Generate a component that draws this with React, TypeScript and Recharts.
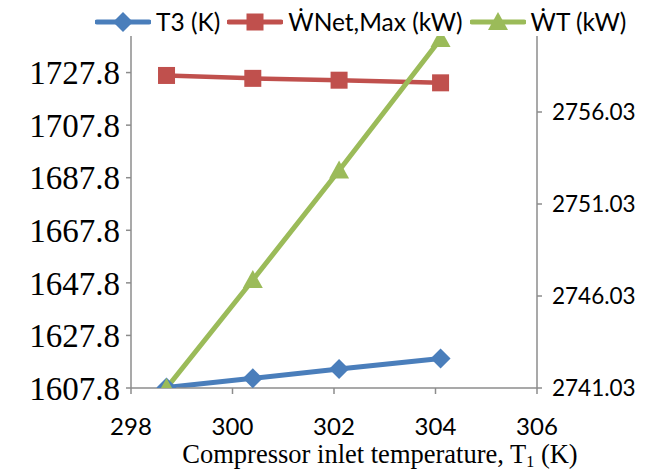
import React from 'react';
import { ComposedChart, Line, XAxis, YAxis, Legend } from 'recharts';

const xValues = [298.7, 300.4, 302.1, 304.1];
const t3Values = [1608.0, 1611.5, 1615.0, 1619.0];
const wnetValues = [1726.7, 1725.6, 1724.9, 1723.9];
const wtValues = [2741.03, 2746.9, 2752.85, 2760.0];
const xTicks = [298, 300, 302, 304, 306];
const leftTicks = [1607.8, 1627.8, 1647.8, 1667.8, 1687.8, 1707.8, 1727.8];
const rightTicks = [2741.03, 2746.03, 2751.03, 2756.03];
const seriesNames = ['T3 (K)', '\u1E86Net,Max (kW)', '\u1E86T (kW)'];

const BLUE = '#4A7EBB';
const RED = '#C0504D';
const GREEN = '#9BBB59';
const AXIS = '#8C8C8C';
const SANS = 'Lato, "Open Sans", sans-serif';
const SERIF = '"Liberation Serif", "Times New Roman", serif';

const data = xValues.map((x, i) => ({ x, t3: t3Values[i], wnet: wnetValues[i], wt: wtValues[i] }));

const Diamond = ({ cx, cy, fill }: any) => (
  <path d={`M${cx},${cy - 10}L${cx + 10},${cy}L${cx},${cy + 10}L${cx - 10},${cy}Z`} fill={fill} />
);
const Square = ({ cx, cy, fill }: any) => (
  <rect x={cx - 8.5} y={cy - 8.5} width={17} height={17} fill={fill} />
);
const Triangle = ({ cx, cy, fill }: any) => (
  <path d={`M${cx},${cy - 10}L${cx + 10},${cy + 8}L${cx - 10},${cy + 8}Z`} fill={fill} />
);

const XTitle = ({ viewBox }: any) => {
  const { x, y, width } = viewBox;
  return (
    <text x={x + width / 2 + 46} y={y + 75} textAnchor="middle" fontFamily={SERIF} fontSize={26.5} fill="#000">
      Compressor inlet temperature, T<tspan fontSize={16} dy={4}>1</tspan><tspan dy={-4}> (K)</tspan>
    </text>
  );
};

const LegendIcon = ({ color, shape }: { color: string; shape: string }) => (
  <svg width={56} height={22} style={{ display: 'block' }}>
    <line x1={2} y1={11} x2={54} y2={11} stroke={color} strokeWidth={5} strokeLinecap="round" />
    {shape === 'd' && <Diamond cx={28} cy={11} fill={color} />}
    {shape === 's' && <Square cx={28} cy={11} fill={color} />}
    {shape === 't' && <Triangle cx={28} cy={11} fill={color} />}
  </svg>
);

const LegendContent = () => {
  const items = [
    { c: BLUE, s: 'd', n: seriesNames[0] },
    { c: RED, s: 's', n: seriesNames[1] },
    { c: GREEN, s: 't', n: seriesNames[2] },
  ];
  return (
    <div style={{ display: 'flex', alignItems: 'center', background: '#fff', height: 28 }}>
      {items.map((it) => (
        <div key={it.n} style={{ display: 'flex', alignItems: 'center', marginRight: 7 }}>
          <LegendIcon color={it.c} shape={it.s} />
          <span style={{ fontFamily: SANS, fontSize: 24.5, color: '#000', marginLeft: 5, whiteSpace: 'nowrap', lineHeight: '28px' }}>{it.n}</span>
        </div>
      ))}
    </div>
  );
};

export default function App() {
  return (
    <ComposedChart width={652} height={464} data={data} margin={{ top: 12, right: 0, bottom: 0, left: 0 }}>
      <XAxis
        dataKey="x"
        type="number"
        domain={[298, 306]}
        ticks={xTicks}
        stroke={AXIS}
        strokeWidth={1.5}
        tickSize={6}
        tickMargin={24}
        height={84}
        tick={{ fontFamily: SANS, fontSize: 24, fill: '#000' }}
        label={<XTitle />}
      />
      <YAxis
        yAxisId="left"
        orientation="left"
        domain={[1607.8, 1747.8]}
        ticks={leftTicks}
        width={123}
        stroke={AXIS}
        strokeWidth={1.5}
        tickSize={5}
        tickMargin={6}
        tickFormatter={(v: number) => v.toFixed(1)}
        tick={{ fontFamily: SERIF, fontSize: 33, fill: '#000' }}
        allowDataOverflow
      />
      <YAxis
        yAxisId="right"
        orientation="right"
        domain={[2741.03, 2761.03]}
        ticks={rightTicks}
        width={123}
        stroke={AXIS}
        strokeWidth={1.5}
        tickSize={5}
        tickMargin={10}
        tickFormatter={(v: number) => v.toFixed(2)}
        tick={{ fontFamily: SANS, fontSize: 22.5, fill: '#000' }}
        allowDataOverflow
      />
      <Legend
        layout="horizontal"
        verticalAlign="middle"
        align="center"
        content={<LegendContent />}
        wrapperStyle={{ top: 0, left: 87, width: 565, height: 28 }}
      />
      <Line
        yAxisId="left"
        dataKey="t3"
        stroke={BLUE}
        strokeWidth={5}
        isAnimationActive={false}
        activeDot={false}
        dot={(p: any) => <Diamond key={`d${p.index}`} cx={p.cx} cy={p.cy} fill={BLUE} />}
      />
      <Line
        yAxisId="left"
        dataKey="wnet"
        stroke={RED}
        strokeWidth={4.5}
        isAnimationActive={false}
        activeDot={false}
        dot={(p: any) => <Square key={`s${p.index}`} cx={p.cx} cy={p.cy} fill={RED} />}
      />
      <Line
        yAxisId="right"
        dataKey="wt"
        stroke={GREEN}
        strokeWidth={5}
        isAnimationActive={false}
        activeDot={false}
        dot={(p: any) => <Triangle key={`t${p.index}`} cx={p.cx} cy={p.cy} fill={GREEN} />}
      />
    </ComposedChart>
  );
}
